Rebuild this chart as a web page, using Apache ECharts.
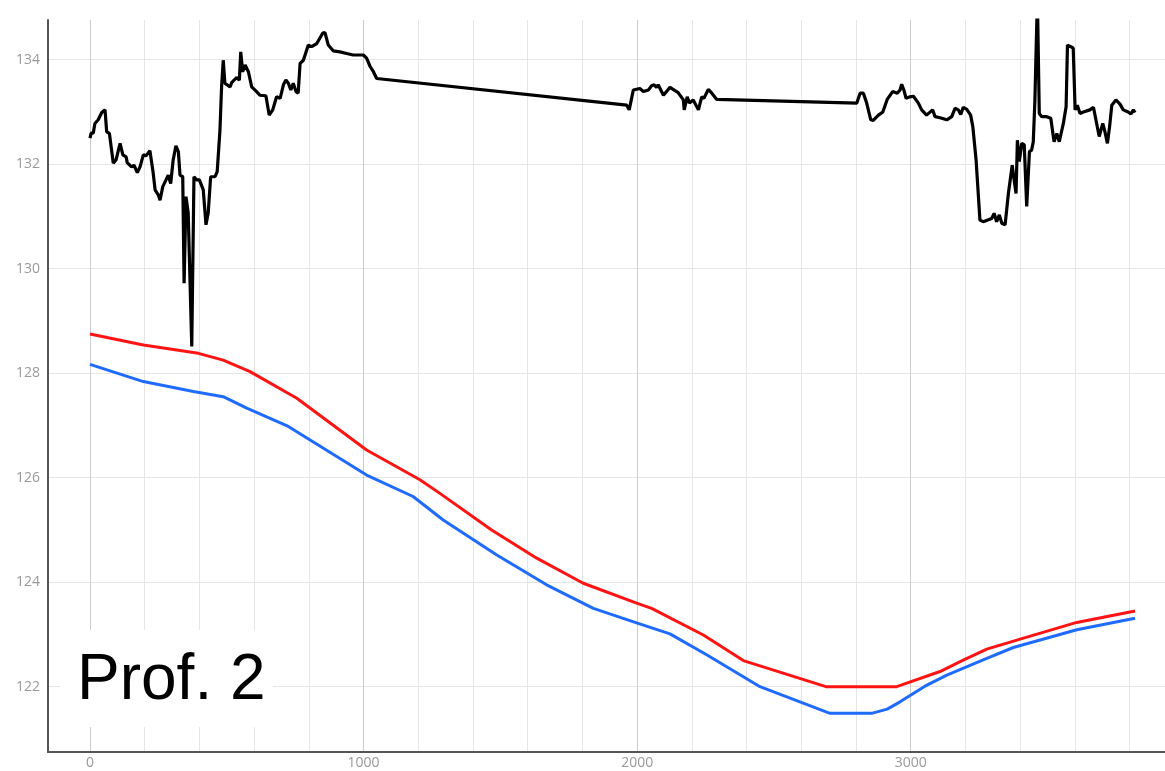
<!DOCTYPE html>
<html>
<head>
<meta charset="utf-8">
<script src="https://cdn.jsdelivr.net/npm/echarts@6/dist/echarts.min.js"></script>
<style>
  html, body { margin: 0; padding: 0; background: #fff; }
  #chart { width: 1165px; height: 771px; }
</style>
</head>
<body>
<div id="chart"></div>
<script>
// ground profile (black)
var groundX = [0, 4, 12, 18, 30, 43, 55, 61, 71, 85, 95, 110, 120, 132, 136, 152, 161, 173, 183, 195,
  205, 219, 231, 238, 250, 256, 266, 278, 286, 295, 304, 314, 323, 329, 339, 344, 351, 359, 372, 380,
  390, 400, 414, 424, 432, 441, 457, 465, 475, 481, 487, 493, 512, 518, 536, 546, 551, 558, 567, 579,
  591, 609, 621, 643, 655, 668, 682, 695, 707, 716, 725, 734, 743, 753, 761, 768, 780, 798, 810, 829,
  851, 859, 871, 889, 914, 938, 962, 999, 1011, 1024, 1036, 1048, 1962, 1971, 1986, 2010, 2023, 2041, 2053, 2062,
  2071, 2077, 2096, 2120, 2150, 2169, 2172, 2183, 2191, 2205, 2224, 2236, 2244, 2260, 2273, 2291, 2803, 2815, 2827, 2839,
  2854, 2863, 2882, 2898, 2914, 2934, 2951, 2961, 2967, 2975, 2983, 2997, 3010, 3028, 3040, 3058, 3064, 3080, 3089, 3107,
  3132, 3150, 3162, 3174, 3183, 3192, 3205, 3219, 3227, 3239, 3253, 3265, 3296, 3305, 3314, 3324, 3333, 3345, 3357, 3371,
  3378, 3385, 3390, 3397, 3406, 3415, 3424, 3434, 3442, 3448, 3454, 3463, 3470, 3479, 3497, 3512, 3524, 3534, 3543, 3558,
  3568, 3573, 3585, 3594, 3601, 3609, 3619, 3631, 3655, 3668, 3677, 3689, 3702, 3710, 3719, 3727, 3735, 3750, 3765, 3777,
  3795, 3805, 3814, 3820];
var groundY = [132.50, 132.59, 132.60, 132.78, 132.85, 132.99, 133.04, 132.62, 132.59, 132.02, 132.08, 132.40, 132.18, 132.14, 132.03, 131.95, 131.98, 131.84, 131.95, 132.18,
  132.16, 132.26, 131.83, 131.51, 131.41, 131.31, 131.57, 131.70, 131.79, 131.63, 132.08, 132.35, 132.24, 131.79, 131.76, 129.72, 131.38, 131.06, 128.51, 131.76,
  131.70, 131.70, 131.51, 130.84, 131.06, 131.76, 131.76, 131.86, 132.65, 133.48, 133.99, 133.55, 133.48, 133.56, 133.66, 133.61, 134.15, 133.77, 133.90, 133.77,
  133.48, 133.39, 133.32, 133.31, 132.94, 133.04, 133.29, 133.26, 133.52, 133.61, 133.55, 133.42, 133.55, 133.39, 133.36, 133.93, 133.99, 134.28, 134.25, 134.31,
  134.51, 134.52, 134.28, 134.17, 134.15, 134.12, 134.09, 134.09, 134.03, 133.87, 133.77, 133.64, 133.13, 133.04, 133.42, 133.45, 133.39, 133.42, 133.50, 133.52,
  133.47, 133.52, 133.32, 133.47, 133.37, 133.23, 133.04, 133.29, 133.17, 133.23, 133.04, 133.29, 133.26, 133.43, 133.36, 133.24, 133.17, 133.36, 133.36, 133.17,
  132.85, 132.84, 132.94, 133.00, 133.24, 133.39, 133.36, 133.42, 133.53, 133.42, 133.26, 133.29, 133.30, 133.17, 133.04, 132.94, 132.91, 133.04, 132.91, 132.89,
  132.85, 132.91, 133.07, 133.04, 132.95, 133.09, 133.05, 132.94, 132.72, 132.08, 130.93, 130.90, 130.96, 131.06, 130.90, 131.03, 130.87, 130.84, 131.44, 131.98,
  131.70, 131.44, 132.46, 132.05, 132.40, 132.37, 131.19, 132.24, 132.27, 132.43, 133.23, 135.20, 132.97, 132.91, 132.91, 132.88, 132.43, 132.59, 132.43, 132.78,
  133.10, 134.28, 134.25, 134.22, 133.04, 133.13, 132.97, 133.00, 133.04, 133.09, 132.85, 132.53, 132.78, 132.62, 132.40, 132.72, 133.13, 133.23, 133.15, 133.04,
  133.00, 132.96, 133.04, 132.99];

// red line
var redX = [0, 195, 396, 487, 585, 756, 1011, 1206, 1279, 1468, 1633, 1803, 1998, 2053, 2242, 2388, 2690, 2949, 3107, 3192, 3278, 3400, 3607, 3820];
var redY = [128.75, 128.54, 128.38, 128.25, 128.03, 127.52, 126.53, 125.96, 125.70, 125.00, 124.46, 123.98, 123.60, 123.50, 122.99, 122.50, 122.00, 122.00, 122.29, 122.51, 122.72, 122.91, 123.23, 123.45];

// blue line
var blueX = [0, 195, 378, 487, 573, 725, 1011, 1181, 1291, 1487, 1669, 1840, 1998, 2120, 2254, 2449, 2705, 2857, 2914, 2961, 3052, 3132, 3278, 3375, 3607, 3820];
var blueY = [128.17, 127.84, 127.65, 127.55, 127.33, 126.98, 126.05, 125.64, 125.19, 124.52, 123.95, 123.50, 123.22, 123.01, 122.61, 122.00, 121.49, 121.49, 121.57, 121.71, 122.01, 122.22, 122.54, 122.75, 123.09, 123.31];

var xTickLabels = [0, 1000, 2000, 3000];
var xGridValues = [0, 200, 400, 600, 800, 1000, 1200, 1400, 1600, 1800, 2000, 2200, 2400, 2600, 2800, 3000, 3200, 3400, 3600, 3800];
var yTickLabels = [122, 124, 126, 128, 130, 132, 134];

function zip(xs, ys) {
  return xs.map(function (x, i) { return [x, ys[i]]; });
}

var myChart = echarts.init(document.getElementById('chart'));

var option = {
  animation: false,
  backgroundColor: '#fff',
  grid: { left: 48, right: 0, top: 20, bottom: 19 },
  xAxis: {
    type: 'value',
    min: -153.5,
    max: 3929.5,
    axisLine: { show: true, onZero: false, lineStyle: { color: '#555', width: 2 } },
    axisTick: { show: false, customValues: xGridValues },
    axisLabel: {
      customValues: xTickLabels,
      formatter: function (v) { return String(v); },
      color: '#999',
      fontSize: 14,
      fontFamily: 'Open Sans',
      margin: 4
    },
    splitLine: {
      show: true,
      lineStyle: { color: ['#cccccc', '#e6e6e6', '#e6e6e6', '#e6e6e6', '#e6e6e6'], width: 1 }
    }
  },
  yAxis: {
    type: 'value',
    min: 120.75,
    max: 134.76,
    axisLine: { show: true, onZero: false, lineStyle: { color: '#555', width: 2 } },
    axisTick: { show: false, customValues: yTickLabels },
    axisLabel: {
      customValues: yTickLabels,
      color: '#999',
      fontSize: 14,
      fontFamily: 'Open Sans',
      margin: 8
    },
    splitLine: { show: true, lineStyle: { color: '#e6e6e6', width: 1 } }
  },
  series: [
    {
      name: 'red',
      type: 'line',
      data: zip(redX, redY),
      showSymbol: false,
      lineStyle: { color: '#ff1414', width: 3 }
    },
    {
      name: 'blue',
      type: 'line',
      data: zip(blueX, blueY),
      showSymbol: false,
      lineStyle: { color: '#1f6bff', width: 3 }
    },
    {
      name: 'ground',
      type: 'line',
      data: zip(groundX, groundY),
      showSymbol: false,
      lineStyle: { color: '#000', width: 3.2 }
    }
  ],
  graphic: [
    {
      type: 'rect',
      z: 100,
      shape: { x: 60, y: 630, width: 213, height: 97 },
      style: { fill: '#fff' }
    },
    {
      type: 'text',
      z: 101,
      style: {
        x: 77,
        y: 681,
        text: 'Prof. 2',
        font: '64px "Liberation Sans", Arial, sans-serif',
        fill: '#000',
        verticalAlign: 'middle'
      }
    }
  ]
};

option && myChart.setOption(option);
</script>
</body>
</html>
